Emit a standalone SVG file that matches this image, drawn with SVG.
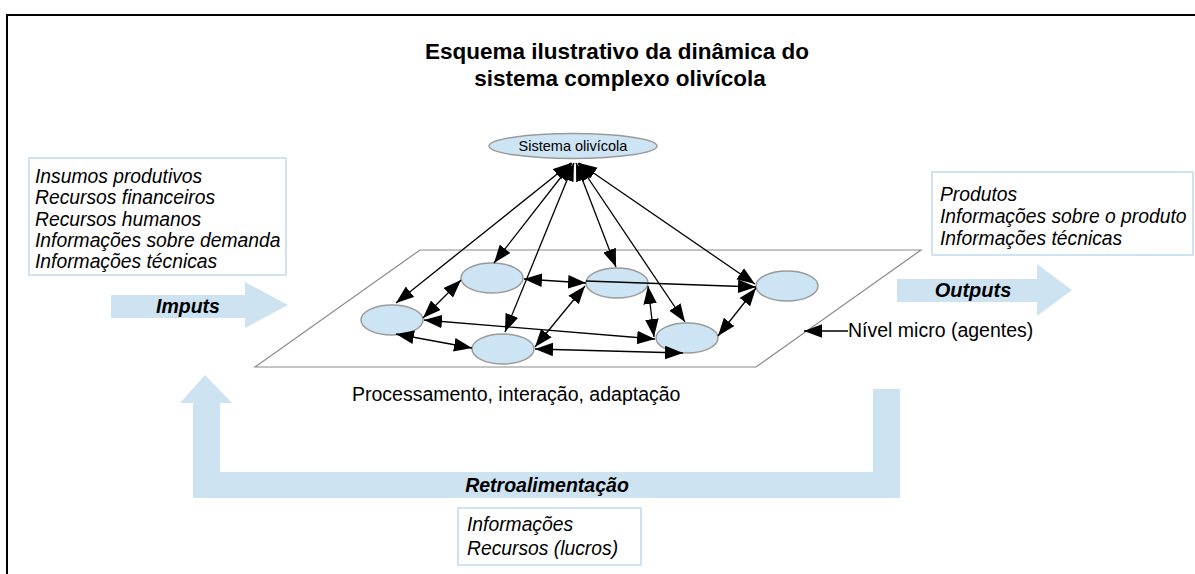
<svg xmlns="http://www.w3.org/2000/svg" width="1195" height="574" viewBox="0 0 1195 574">
<style>
text{font-family:"Liberation Sans",Arial,sans-serif;fill:#000}
.title{font-size:22.5px;font-weight:bold;text-anchor:middle}
.it{font-size:19.3px;font-style:italic}
.bi{font-size:19.5px;font-style:italic;font-weight:bold;text-anchor:middle}
.reg{font-size:19.5px}
.box{fill:#fff;stroke:#cfe3f3;stroke-width:2}
.flow{fill:#cde3f2}
.node{fill:#cde4f4;stroke:#9a9a9a;stroke-width:1.5}
.plane{fill:none;stroke:#8a8a8a;stroke-width:1.2}
.con{stroke:#000;stroke-width:1.3;fill:none}
</style>
<defs>
<marker id="ah" markerUnits="userSpaceOnUse" markerWidth="18" markerHeight="14" refX="16" refY="6" orient="auto-start-reverse" viewBox="0 0 16 12">
<path d="M0,0 L16,6 L0,12 z" fill="#000"/>
</marker>
</defs>
<rect width="1195" height="574" fill="#fff"/>
<path d="M7,574 V15 H1195" fill="none" stroke="#000" stroke-width="2"/>
<g id="title">
<text class="title" x="617" y="59">Esquema ilustrativo da dinâmica do</text>
<text class="title" x="620" y="86">sistema complexo olivícola</text>
</g>
<g id="plane">
<path class="plane" d="M420,250 H921 L756,367 H255 Z"/>
</g>
<g id="inputs">
<rect class="box" x="29" y="158" width="257" height="117"/>
<text class="it" x="35" y="183">Insumos produtivos</text>
<text class="it" x="35" y="204">Recursos financeiros</text>
<text class="it" x="35" y="226">Recursos humanos</text>
<text class="it" x="35" y="247">Informações sobre demanda</text>
<text class="it" x="35" y="268">Informações técnicas</text>
</g>
<g id="imputs-arrow">
<path class="flow" d="M111,295 H245 V282 L288,305 L245,328 V318 H111 Z"/>
<text class="bi" x="188" y="313">Imputs</text>
</g>
<g id="outputs">
<rect class="box" x="932" y="172" width="261" height="83"/>
<text class="it" x="940" y="201">Produtos</text>
<text class="it" x="940" y="223">Informações sobre o produto</text>
<text class="it" x="940" y="245">Informações técnicas</text>
</g>
<g id="outputs-arrow">
<path class="flow" d="M897,279 H1037 V264 L1072,290 L1037,316 V302 H897 Z"/>
<text class="bi" x="973" y="297" style="font-size:20px">Outputs</text>
</g>
<g id="feedback">
<path class="flow" d="M193,498 V403 H180 L205,375 L232,403 H220 V472 H873 V389 H900 V498 Z"/>
<text class="bi" x="547" y="492">Retroalimentação</text>
</g>
<g id="feedback-box">
<rect class="box" x="458" y="508" width="183" height="57"/>
<text class="it" x="467" y="531">Informações</text>
<text class="it" x="467" y="555">Recursos (lucros)</text>
</g>
<g id="sistema">
<ellipse class="node" cx="573" cy="146" rx="84" ry="12.5"/>
<text x="573" y="151" font-size="14.5" text-anchor="middle">Sistema olivícola</text>
</g>
<g id="n1"><ellipse class="node" cx="392" cy="320" rx="31" ry="15"/></g>
<g id="n2"><ellipse class="node" cx="492" cy="278" rx="31" ry="15"/></g>
<g id="n3"><ellipse class="node" cx="617" cy="283" rx="31" ry="15"/></g>
<g id="n4"><ellipse class="node" cx="503" cy="349" rx="31" ry="15"/></g>
<g id="n5"><ellipse class="node" cx="687" cy="338" rx="31" ry="15"/></g>
<g id="n6"><ellipse class="node" cx="787" cy="286" rx="31" ry="15"/></g>
<g id="connectors">
<line class="con" x1="571" y1="163" x2="396" y2="303" marker-start="url(#ah)" marker-end="url(#ah)"/>
<line class="con" x1="572" y1="163" x2="494" y2="263" marker-start="url(#ah)" marker-end="url(#ah)"/>
<line class="con" x1="574" y1="163" x2="505" y2="332" marker-start="url(#ah)" marker-end="url(#ah)"/>
<line class="con" x1="576" y1="163" x2="616" y2="267" marker-start="url(#ah)" marker-end="url(#ah)"/>
<line class="con" x1="578" y1="163" x2="685" y2="322" marker-start="url(#ah)" marker-end="url(#ah)"/>
<line class="con" x1="579" y1="163" x2="755" y2="284" marker-start="url(#ah)" marker-end="url(#ah)"/>
<line class="con" x1="423" y1="318" x2="461" y2="280" marker-start="url(#ah)" marker-end="url(#ah)"/>
<line class="con" x1="424" y1="320" x2="655" y2="339" marker-start="url(#ah)" marker-end="url(#ah)"/>
<line class="con" x1="396" y1="334" x2="472" y2="348" marker-start="url(#ah)" marker-end="url(#ah)"/>
<line class="con" x1="524" y1="279" x2="586" y2="283" marker-start="url(#ah)" marker-end="url(#ah)"/>
<line class="con" x1="586" y1="281" x2="756" y2="287" marker-end="url(#ah)"/>
<line class="con" x1="585" y1="286" x2="535" y2="347" marker-start="url(#ah)" marker-end="url(#ah)"/>
<line class="con" x1="648" y1="286" x2="654" y2="337" marker-start="url(#ah)" marker-end="url(#ah)"/>
<line class="con" x1="535" y1="349" x2="683" y2="353" marker-start="url(#ah)" marker-end="url(#ah)"/>
<line class="con" x1="718" y1="336" x2="756" y2="288" marker-start="url(#ah)" marker-end="url(#ah)"/>
<line class="con" x1="848" y1="331" x2="804" y2="331" marker-end="url(#ah)"/>
</g>
<g id="labels">
<text class="reg" x="848" y="337">Nível micro (agentes)</text>
<text class="reg" x="352" y="401">Processamento, interação, adaptação</text>
</g>
</svg>
